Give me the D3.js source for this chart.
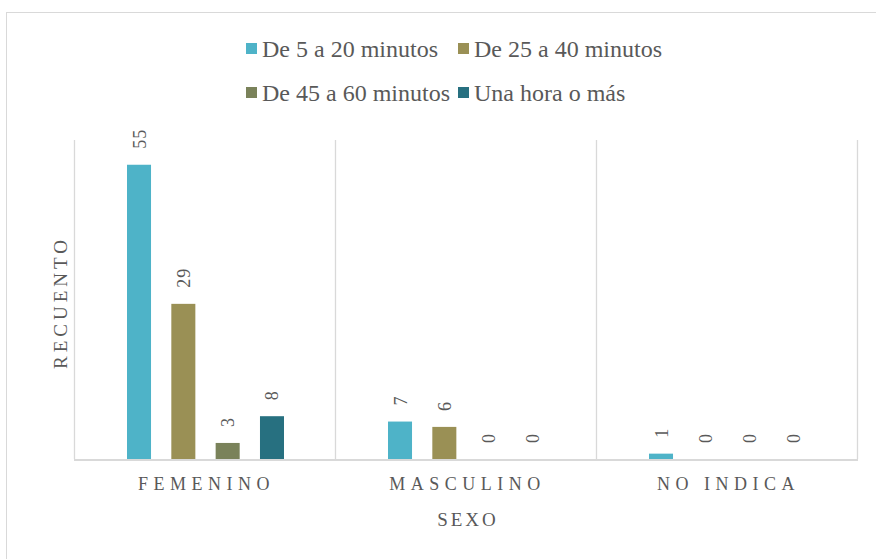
<!DOCTYPE html>
<html><head><meta charset="utf-8">
<script src="https://cdn.jsdelivr.net/npm/d3@7"></script>
<style>body{margin:0;background:#fff}svg{display:block}</style>
</head><body>
<svg id="c" width="876" height="559"></svg>
<script>
const categories = ["FEMENINO", "MASCULINO", "NO INDICA"];
const seriesNames = ["De 5 a 20 minutos", "De 25 a 40 minutos", "De 45 a 60 minutos", "Una hora o más"];
const s1 = [55, 7, 1];
const s2 = [29, 6, 0];
const s3 = [3, 0, 0];
const s4 = [8, 0, 0];
const colors = ["#4EB3C8", "#9A9055", "#7A825A", "#277080"];
const seriesValues = [s1, s2, s3, s4];
const yMax = 60;

(function () {
const svg = d3.select("#c");
const FF = '"Liberation Serif"';
const txt = "#595959";
const grid = "#d9d9d9";

svg.append("rect").attr("x", 6.5).attr("y", 12.5).attr("width", 900).attr("height", 600)
  .attr("fill", "none").attr("stroke", grid).attr("stroke-width", 1);

const pl = 75, pr = 858, pt = 138, pb = 459;
const x0 = d3.scaleBand().domain(categories).range([pl, pr]).padding(0);
const x1 = d3.scaleBand().domain(d3.range(4)).range([52, 209]).paddingInner(0.458).paddingOuter(0);
const y = d3.scaleLinear().domain([0, yMax]).range([pb, pt]);

const seps = [pl].concat(categories.map(c => x0(c) + x0.bandwidth()));
svg.selectAll("line.sep").data(seps).join("line")
  .attr("x1", d => Math.round(d) - 0.5).attr("x2", d => Math.round(d) - 0.5)
  .attr("y1", pt + 2).attr("y2", pb).attr("stroke", grid).attr("stroke-width", 1.3);

const flat = [];
categories.forEach((c, ci) => seriesValues.forEach((sv, si) => flat.push({c, si, v: sv[ci]})));
svg.selectAll("rect.bar").data(flat).join("rect")
  .attr("x", d => x0(d.c) + x1(d.si)).attr("width", x1.bandwidth())
  .attr("y", d => y(d.v)).attr("height", d => y(0) - y(d.v))
  .attr("fill", d => colors[d.si]);

svg.append("line").attr("x1", pl - 1).attr("x2", pr).attr("y1", pb + 1).attr("y2", pb + 1)
  .attr("stroke", grid).attr("stroke-width", 2);

svg.selectAll("text.lbl").data(flat).join("text")
  .attr("transform", d => `translate(${x0(d.c) + x1(d.si) + x1.bandwidth() / 2 + 6.5},${y(d.v) - 16}) rotate(-90)`)
  .attr("text-anchor", "start").style("font-family", FF).style("font-size", "18px").attr("fill", txt)
  .attr("letter-spacing", "1px")
  .text(d => d.v);

const xAxis = svg.append("g").attr("transform", `translate(0,${pb})`)
  .call(d3.axisBottom(x0).tickSize(0).tickPadding(0));
xAxis.attr("font-family", null).attr("font-size", null);
xAxis.select(".domain").remove();
xAxis.selectAll("text").attr("y", 31).attr("dy", 0).style("font-family", FF).style("font-size", "18px")
  .attr("fill", txt).attr("letter-spacing", "5.5px").attr("dx", 1);

svg.append("text").attr("x", (pl + pr) / 2 + 1.5).attr("y", 526).attr("text-anchor", "middle")
  .style("font-family", FF).style("font-size", "19px").attr("fill", txt).attr("letter-spacing", "3px").text("SEXO");
svg.append("text").attr("transform", `translate(67,${(140 + pb) / 2 + 3}) rotate(-90)`).attr("text-anchor", "middle")
  .style("font-family", FF).style("font-size", "19px").attr("fill", txt).attr("letter-spacing", "4px").text("RECUENTO");

const legPos = [[246, 49], [458, 49], [246, 93], [458, 93]];
const leg = svg.selectAll("g.leg").data(seriesNames).join("g")
  .attr("transform", (d, i) => `translate(${legPos[i][0]},${legPos[i][1]})`);
leg.append("rect").attr("x", 0).attr("y", -6).attr("width", 11).attr("height", 11).attr("fill", (d, i) => colors[i]);
leg.append("text").attr("x", 16).attr("y", 8).style("font-family", FF).style("font-size", "24px")
  .attr("fill", txt).text(d => d);
})();
</script>
</body></html>
